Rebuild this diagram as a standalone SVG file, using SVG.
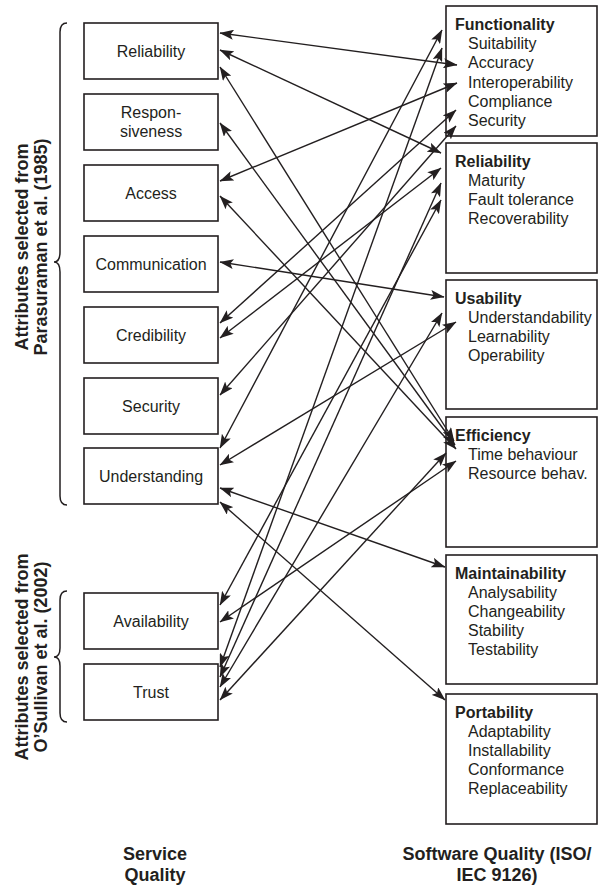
<svg xmlns="http://www.w3.org/2000/svg" width="598" height="886" viewBox="0 0 598 886">
<defs>
<style>
.box{fill:#fff;stroke:#231f20;stroke-width:1.6}
.t{font-family:"Liberation Sans",Arial,sans-serif;font-size:16px;fill:#231f20}
.c{text-anchor:middle}
.b{font-weight:bold}
.lab{font-family:"Liberation Sans",Arial,sans-serif;font-size:18px;font-weight:bold;fill:#231f20;text-anchor:middle}
.brace{fill:none;stroke:#231f20;stroke-width:1.5}
.con line{stroke:#231f20;stroke-width:1.4;marker-start:url(#ah);marker-end:url(#ah)}
</style>
<marker id="ah" viewBox="0 0 14 10" refX="13.5" refY="5" markerWidth="14" markerHeight="10" markerUnits="userSpaceOnUse" orient="auto-start-reverse">
<path d="M0,0 L14,5 L0,10 L3,5 z" fill="#231f20"/>
</marker>
</defs>
<rect width="598" height="886" fill="#fff"/>

<!-- braces and side labels -->
<path class="brace" d="M67,23 Q60,23 60,32 L60,252 Q60,262 54,262 Q60,262 60,272 L60,496 Q60,505 67,505"/>
<path class="brace" d="M67,591 Q60,591 60,600 L60,648 Q60,657 54,657 Q60,657 60,666 L60,713 Q60,722 67,722"/>
<text class="lab" transform="translate(28,247) rotate(-90)">Attributes selected from</text>
<text class="lab" transform="translate(47,247) rotate(-90)">Parasuraman et al. (1985)</text>
<text class="lab" transform="translate(28,657) rotate(-90)">Attributes selected from</text>
<text class="lab" transform="translate(47,657) rotate(-90)">O’Sullivan et al. (2002)</text>

<!-- left nodes -->
<g id="s-reliability"><rect class="box" x="84" y="23" width="134" height="56"/><text class="t c" x="151" y="57">Reliability</text></g>
<g id="s-responsiveness"><rect class="box" x="84" y="94" width="134" height="56"/><text class="t c" x="151" y="118">Respon-</text><text class="t c" x="151" y="137">siveness</text></g>
<g id="s-access"><rect class="box" x="84" y="165" width="134" height="56"/><text class="t c" x="151" y="199">Access</text></g>
<g id="s-communication"><rect class="box" x="84" y="236" width="134" height="56"/><text class="t c" x="151" y="270">Communication</text></g>
<g id="s-credibility"><rect class="box" x="84" y="307" width="134" height="56"/><text class="t c" x="151" y="341">Credibility</text></g>
<g id="s-security"><rect class="box" x="84" y="378" width="134" height="56"/><text class="t c" x="151" y="412">Security</text></g>
<g id="s-understanding"><rect class="box" x="84" y="448" width="134" height="56"/><text class="t c" x="151" y="482">Understanding</text></g>
<g id="s-availability"><rect class="box" x="84" y="593" width="134" height="56"/><text class="t c" x="151" y="627">Availability</text></g>
<g id="s-trust"><rect class="box" x="84" y="664" width="134" height="56"/><text class="t c" x="151" y="698">Trust</text></g>

<!-- right nodes -->
<g id="q-functionality"><rect class="box" x="446" y="6" width="151" height="130"/>
<text class="t b" x="455" y="30">Functionality</text>
<text class="t" x="468" y="49">Suitability</text><text class="t" x="468" y="68">Accuracy</text><text class="t" x="468" y="88">Interoperability</text><text class="t" x="468" y="107">Compliance</text><text class="t" x="468" y="126">Security</text></g>
<g id="q-reliability"><rect class="box" x="446" y="143" width="151" height="130"/>
<text class="t b" x="455" y="167">Reliability</text>
<text class="t" x="468" y="186">Maturity</text><text class="t" x="468" y="205">Fault tolerance</text><text class="t" x="468" y="224">Recoverability</text></g>
<g id="q-usability"><rect class="box" x="446" y="280" width="151" height="129"/>
<text class="t b" x="455" y="304">Usability</text>
<text class="t" x="468" y="323">Understandability</text><text class="t" x="468" y="342">Learnability</text><text class="t" x="468" y="361">Operability</text></g>
<g id="q-efficiency"><rect class="box" x="446" y="417" width="151" height="130"/>
<text class="t b" x="455" y="441">Efficiency</text>
<text class="t" x="468" y="460">Time behaviour</text><text class="t" x="468" y="479">Resource behav.</text></g>
<g id="q-maintainability"><rect class="box" x="446" y="555" width="151" height="129"/>
<text class="t b" x="455" y="579">Maintainability</text>
<text class="t" x="468" y="598">Analysability</text><text class="t" x="468" y="617">Changeability</text><text class="t" x="468" y="636">Stability</text><text class="t" x="468" y="655">Testability</text></g>
<g id="q-portability"><rect class="box" x="446" y="694" width="151" height="130"/>
<text class="t b" x="455" y="718">Portability</text>
<text class="t" x="468" y="737">Adaptability</text><text class="t" x="468" y="756">Installability</text><text class="t" x="468" y="775">Conformance</text><text class="t" x="468" y="794">Replaceability</text></g>

<!-- connectors -->
<g id="connectors" class="con">
<line x1="220" y1="33" x2="457" y2="65"/>
<line x1="220" y1="50" x2="441" y2="153"/>
<line x1="220" y1="67" x2="454" y2="441"/>
<line x1="220" y1="123" x2="455" y2="445"/>
<line x1="220" y1="181" x2="457" y2="83"/>
<line x1="220" y1="196" x2="456" y2="449"/>
<line x1="220" y1="262" x2="444" y2="297"/>
<line x1="220" y1="323" x2="456" y2="110"/>
<line x1="220" y1="338" x2="441" y2="168"/>
<line x1="220" y1="395" x2="456" y2="126"/>
<line x1="220" y1="448" x2="442" y2="30"/>
<line x1="220" y1="465" x2="456" y2="322"/>
<line x1="220" y1="488" x2="445" y2="567"/>
<line x1="220" y1="502" x2="445" y2="700"/>
<line x1="220" y1="605" x2="441" y2="200"/>
<line x1="220" y1="622" x2="456" y2="461"/>
<line x1="220" y1="667" x2="442" y2="48"/>
<line x1="220" y1="677" x2="441" y2="183"/>
<line x1="220" y1="687" x2="442" y2="313"/>
<line x1="220" y1="700" x2="446" y2="453"/>
</g>

<!-- bottom labels -->
<text class="lab" x="155" y="860">Service</text>
<text class="lab" x="155" y="881">Quality</text>
<text class="lab" x="497" y="860">Software Quality (ISO/</text>
<text class="lab" x="497" y="881">IEC 9126)</text>
</svg>
